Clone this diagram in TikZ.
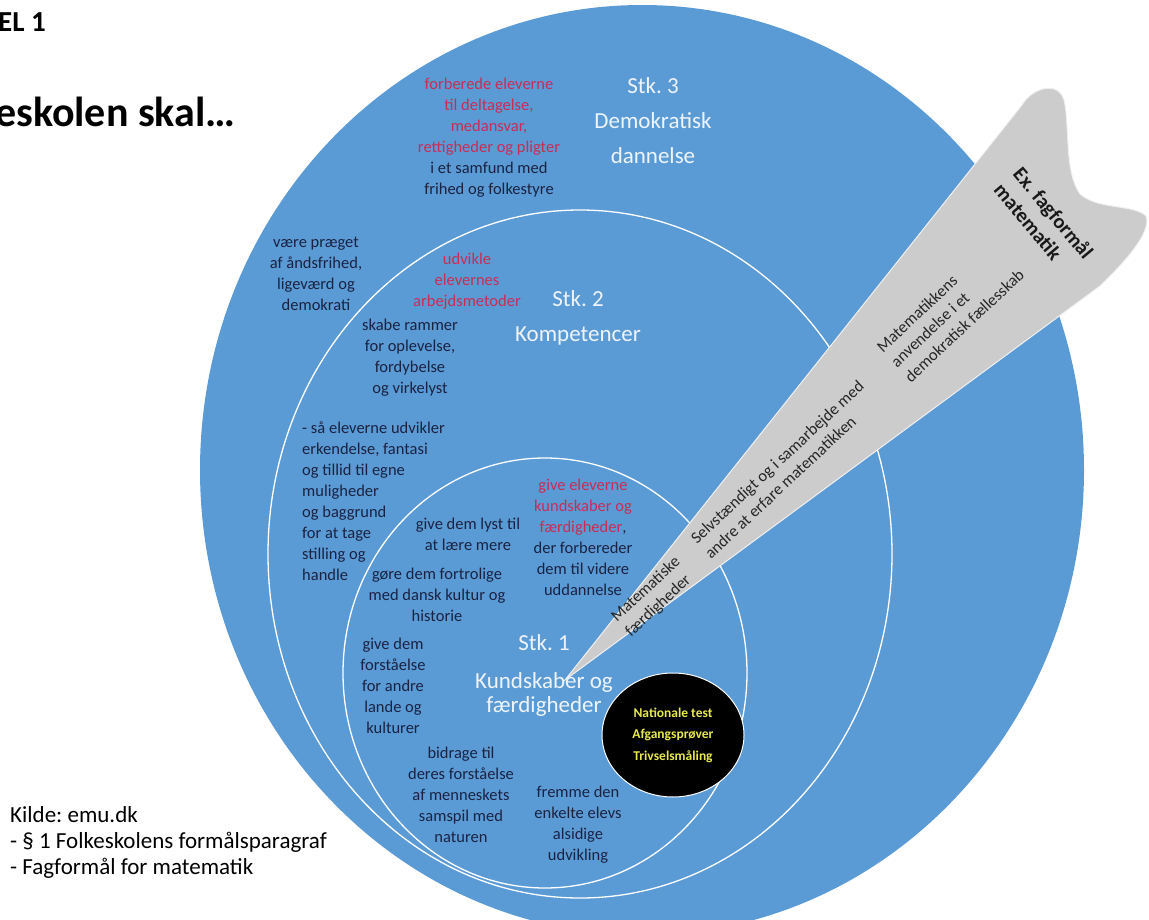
\documentclass[tikz,border=0pt]{standalone}
\usepackage{fontspec}
\setmainfont{Carlito}
\usetikzlibrary{shapes.geometric}

\definecolor{circleblue}{RGB}{91,155,213}
\definecolor{navytext}{RGB}{26,34,66}
\definecolor{redtext}{RGB}{200,45,85}
\definecolor{stktext}{RGB}{238,244,250}
\definecolor{wedgegrey}{RGB}{204,204,204}
\definecolor{testyellow}{RGB}{232,232,80}

\newcommand{\rtxt}[1]{{\color{redtext}#1}}
\frenchspacing

\tikzset{
  goal/.style={font=\fontsize{16.5}{21}\selectfont, text=navytext, align=center, inner sep=0},
  stk/.style={font=\fontsize{23}{35}\selectfont, text=stktext, align=center, inner sep=0},
  wedgetext/.style={font=\fontsize{16.5}{20.5}\selectfont, text=black!85, align=left, anchor=west, inner sep=0, rotate=43},
  ring/.style={ellipse, draw=white, line width=1.3pt, inner sep=0},
}

\begin{document}
\begin{tikzpicture}[x=1pt, y=-1pt]
    \useasboundingbox (0, 0) rectangle (1149, 920);

    % Heading
    \node[font=\bfseries\fontsize{29}{35}\selectfont, anchor=base west, inner sep=0] (chapter) at (-2, 32) {EL 1};
    \node[font=\bfseries\fontsize{42}{50}\selectfont, anchor=base west, inner sep=0] (heading) at (-5, 127) {eskolen skal…};

    % Circles
    \node[ellipse, fill=circleblue, inner sep=0, minimum width=884, minimum height=930] (stk3) at (642, 470) {};
    \node[ring, minimum width=624, minimum height=688] (stk2) at (580, 554) {};
    \node[ring, minimum width=404, minimum height=430] (stk1) at (545, 673) {};
    \node[ellipse, fill=black, draw=white, line width=1pt, inner sep=0, minimum width=142, minimum height=124,
    text=testyellow, font=\bfseries\fontsize{13.5}{21.5}\selectfont, align=center] (tests) at (673, 735)
    {Nationale test\\Afgangsprøver\\Trivselsmåling};

    % Stk. labels
    \node[stk] (stk3title) at (653, 121) {Stk. 3\\Demokratisk\\dannelse};
    \node[stk] (stk2title) at (578, 318) {Stk. 2\\Kompetencer};
    \node[stk] (stk1num) at (544, 643) {Stk. 1};
    \node[stk, font=\fontsize{23}{24}\selectfont] (stk1title) at (544, 694) {Kundskaber og\\færdigheder};

    % Stk. 3 texts
    \node[goal] (democracy) at (489, 138) {\rtxt{forberede eleverne}\\\rtxt{til deltagelse,}\\\rtxt{medansvar,}\\\rtxt{rettigheder og pligter}\\i et samfund med\\frihed og folkestyre};
    \node[goal] (spirit) at (316, 274) {være præget\\af åndsfrihed,\\ligeværd og\\demokrati};

    % Stk. 2 texts
    \node[goal] (methods) at (467, 281) {\rtxt{udvikle}\\\rtxt{elevernes}\\\rtxt{arbejdsmetoder}};
    \node[goal] (frames) at (410, 358) {skabe rammer\\for oplevelse,\\fordybelse\\og virkelyst};
    \node[goal, align=left, anchor=west] (insight) at (302, 501) {- så eleverne udvikler\\erkendelse, fantasi\\og tillid til egne\\muligheder\\og baggrund\\for at tage\\stilling og\\handle};

    % Stk. 1 texts
    \node[goal] (desire) at (468, 534) {give dem lyst til\\at lære mere};
    \node[goal] (culture) at (437, 595) {gøre dem fortrolige\\med dansk kultur og\\historie};
    \node[goal] (knowledge) at (583, 537) {\rtxt{give eleverne}\\\rtxt{kundskaber og}\\\rtxt{færdigheder},\\der forbereder\\dem til videre\\uddannelse};
    \node[goal] (countries) at (393, 686) {give dem\\forståelse\\for andre\\lande og\\kulturer};
    \node[goal] (nature) at (461, 795) {bidrage til\\deres forståelse\\af menneskets\\samspil med\\naturen};
    \node[goal] (allround) at (578, 825) {fremme den\\enkelte elevs\\alsidige\\udvikling};

    % Subject wedge
    \fill[wedgegrey, draw=white!70!wedgegrey, line width=1pt] (565, 680) -- (1022, 105)
    .. controls (1032, 88) and (1058, 80) .. (1064, 100)
    .. controls (1070, 125) and (1064, 172) .. (1080, 194)
    .. controls (1098, 210) and (1134, 204) .. (1146, 216)
    .. controls (1152, 232) and (1125, 262) .. (1100, 286) -- cycle;
    \node[wedgetext] (skills) at (621, 627) {Matematiske\\færdigheder};
    \node[wedgetext] (cooperation) at (700, 548) {Selvstændigt og i samarbejde med\\andre at erfare matematikken};
    \node[wedgetext] (application) at (893, 364) {Matematikkens\\anvendelse i et\\demokratisk fællesskab};
    \node[font=\bfseries\fontsize{20.5}{25}\selectfont, text=black!90, align=left, anchor=west, inner sep=0, rotate=-50] (subject) at (1008, 178) {Ex. fagformål\\matematik};

    % Source
    \node[font=\fontsize{23}{26}\selectfont, align=left, anchor=west, inner sep=0] (source) at (10, 842) {Kilde: emu.dk\\- § 1 Folkeskolens formålsparagraf\\- Fagformål for matematik};

\end{tikzpicture}
\end{document}
